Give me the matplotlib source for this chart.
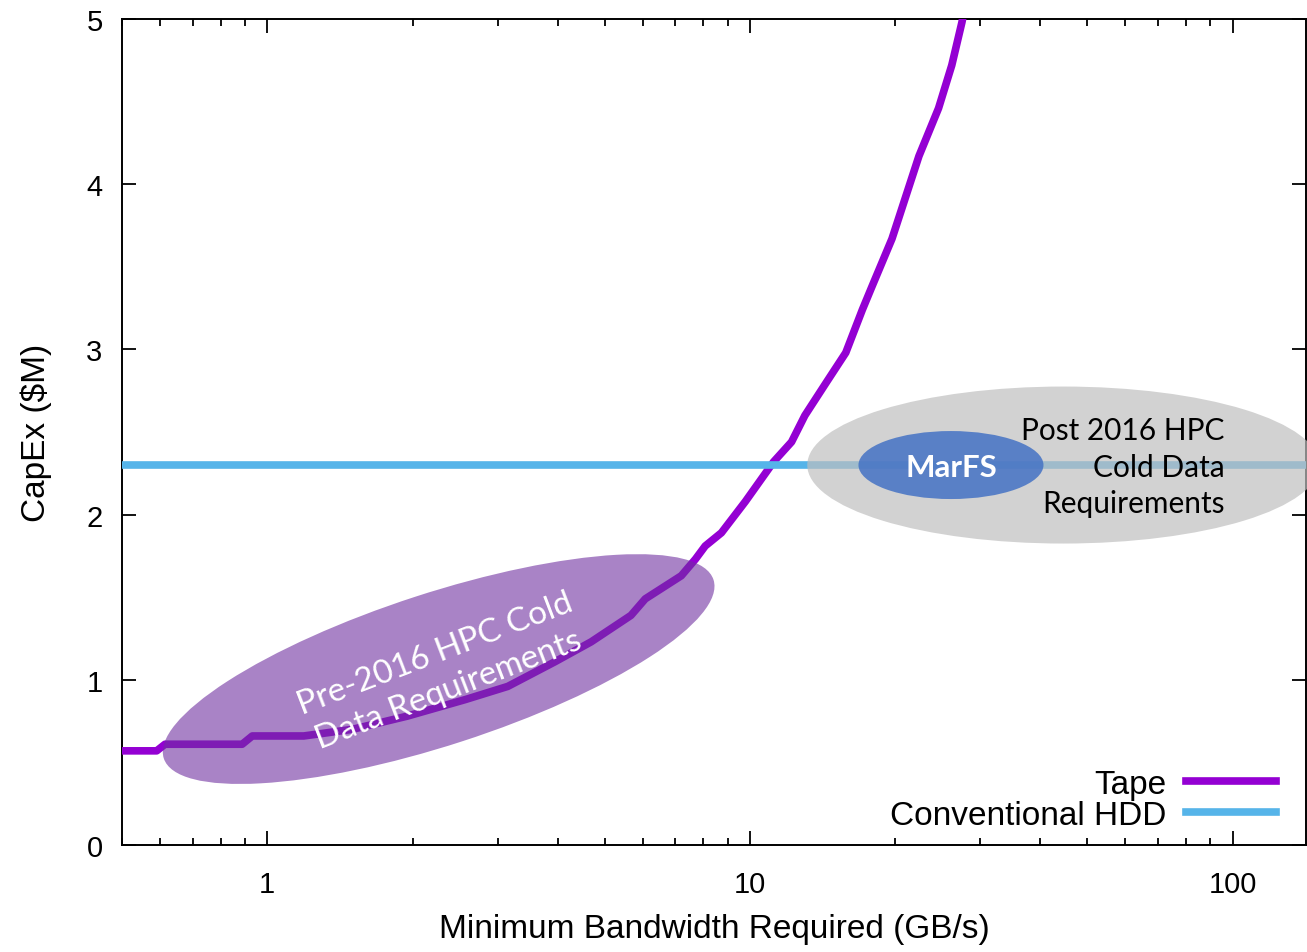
import matplotlib.pyplot as plt
from matplotlib.patches import Ellipse
from matplotlib.transforms import ScaledTranslation
from matplotlib.ticker import FixedLocator, NullFormatter

# Tape CapEx vs. minimum bandwidth
tape_bw = [0.5, 0.59, 0.614, 0.887, 0.931, 1.19, 1.5, 1.95, 2.57, 3.15, 3.95,
           4.69, 5.67, 6.07, 7.21, 7.71, 8.08, 8.73, 9.79, 11.2, 12.2, 13.0,
           14.4, 15.8, 17.1, 17.9, 19.7, 22.4, 24.6, 26.2, 27.5, 27.8]
tape_cost = [0.57, 0.57, 0.61, 0.61, 0.66, 0.66, 0.70, 0.78, 0.88, 0.96, 1.11,
             1.23, 1.39, 1.49, 1.63, 1.73, 1.81, 1.89, 2.08, 2.32, 2.44, 2.60,
             2.80, 2.98, 3.24, 3.38, 3.67, 4.17, 4.46, 4.72, 4.98, 5.05]

# conventional HDD is flat
hdd_bw = [0.5, 150]
hdd_cost = [2.30, 2.30]

x_ticks = [1, 10, 100]
x_ticklabels = ['1', '10', '100']
y_ticks = [0, 1, 2, 3, 4, 5]

tape_color = '#9400D3'
hdd_color = '#56B4E9'

plt.rcParams['font.family'] = ['Liberation Sans', 'DejaVu Sans']

fig = plt.figure(figsize=(13.07, 9.53), dpi=100)
ax = fig.add_axes([122 / 1307, 107 / 953, 1184 / 1307, 826 / 953])

ax.plot(tape_bw, tape_cost, color=tape_color, lw=5.5, label='Tape', zorder=3,
        solid_joinstyle='round')
ax.plot(hdd_bw, hdd_cost, color=hdd_color, lw=5.5, label='Conventional HDD', zorder=3)

ax.set_xscale('log')
ax.set_xlim(0.5, 142)
ax.set_ylim(0, 5)
ax.set_xticks(x_ticks)
ax.set_xticklabels(x_ticklabels)
minors = [m * d for d in (0.1, 1, 10, 100) for m in range(2, 10)]
ax.xaxis.set_minor_locator(FixedLocator(minors))
ax.xaxis.set_minor_formatter(NullFormatter())
ax.set_yticks(y_ticks)

ax.tick_params(which='both', direction='in', top=True, right=True, labelsize=21, width=1.3)
ax.tick_params(axis='x', which='major', length=10, pad=18)
ax.tick_params(axis='y', which='major', length=10, pad=14)
ax.tick_params(which='minor', length=5)
for s in ax.spines.values():
    s.set_linewidth(1.4)

ax.set_xlabel('Minimum Bandwidth Required (GB/s)', fontsize=24, labelpad=11)
ax.set_ylabel('CapEx ($M)', fontsize=24, labelpad=25)


def blob(cx, cy, w, h, angle, color, alpha, z):
    # centre in data coords, size in inches so log axis does not skew it
    tr = fig.dpi_scale_trans + ScaledTranslation(cx, cy, ax.transData)
    e = Ellipse((0, 0), w, h, angle=angle, facecolor=color, edgecolor='none',
                alpha=alpha, transform=tr, zorder=z, clip_on=False)
    ax.add_patch(e)


blob(2.265, 1.065, 5.78, 1.52, 18, '#7030A0', 0.6, 4)
blob(44.6, 2.30, 5.12, 1.57, 0, '#BFBFBF', 0.7, 4)
blob(26.1, 2.30, 1.85, 0.68, 0, '#4472C4', 0.85, 5)

ax.text(2.30, 1.05, 'Pre-2016 HPC Cold\nData Requirements', rotation=21,
        rotation_mode='anchor', ha='center', va='center', color='white',
        fontsize=24, family='Lato', linespacing=1.35, zorder=6)
ax.text(26.1, 2.29, 'MarFS', ha='center', va='center', color='white',
        fontsize=22.5, family='Lato', fontweight='bold', zorder=6)
ax.text(96.2, 2.29, 'Post 2016 HPC\nCold Data\nRequirements', ha='right',
        va='center', color='black', fontsize=21.5, family='Lato',
        linespacing=1.38, zorder=6)

ax.legend(loc='lower right', bbox_to_anchor=(1 - 30 / 1184, 14 / 826),
          frameon=False, markerfirst=False, fontsize=24, handlelength=2.7,
          handletextpad=0.6, labelspacing=0.0, borderpad=0, borderaxespad=0)

fig.savefig('out.png', dpi=100)
